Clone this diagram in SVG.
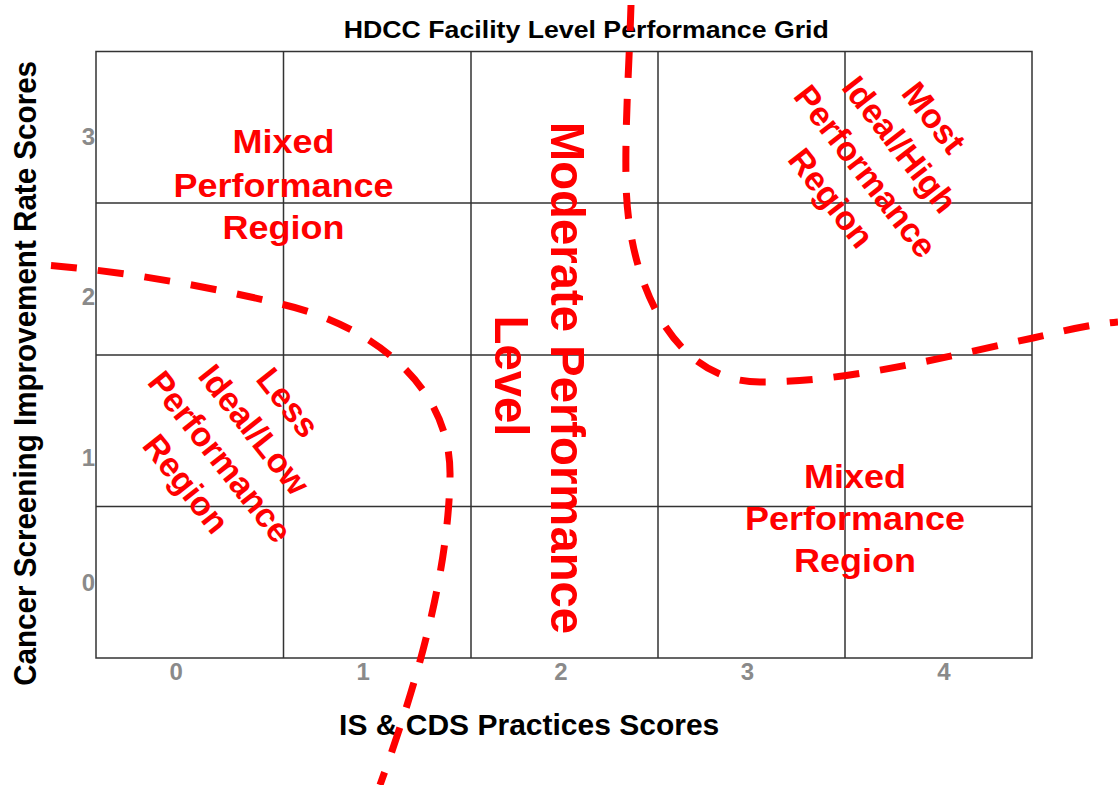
<svg xmlns="http://www.w3.org/2000/svg" width="1118" height="785" viewBox="0 0 1118 785">
  <style>
    .grid { fill: none; stroke: #333333; stroke-width: 1.5; }
    .tick { font-family: "Liberation Sans", Arial, sans-serif; font-weight: bold; font-size: 24px; fill: #8a8a8a; }
    .axis { font-family: "Liberation Sans", Arial, sans-serif; font-weight: bold; fill: #000000; }
    .region { font-family: "Liberation Sans", Arial, sans-serif; font-weight: bold; fill: #ff0000; text-anchor: middle; }
    .boundary { fill: none; stroke: #ff0000; stroke-width: 7; stroke-dasharray: 26 21; }
  </style>

  <rect width="1118" height="785" fill="#ffffff"/>

  <!-- 5 x 4 performance grid -->
  <g id="grid" class="grid">
    <rect x="96" y="51.5" width="936" height="606.5"/>
    <path d="M283.5 51.5V658M471 51.5V658M658 51.5V658M845 51.5V658M96 203H1032M96 355H1032M96 506.5H1032"/>
  </g>

  <!-- title and axis titles -->
  <g id="titles">
    <text id="title" class="axis" font-size="26.7" text-anchor="middle" transform="translate(586.3,38.3) scale(1,0.875)">HDCC Facility Level Performance Grid</text>
    <text id="x-title" class="axis" font-size="30" text-anchor="middle" x="529.2" y="735">IS &amp; CDS Practices Scores</text>
    <text id="y-title" class="axis" font-size="32" text-anchor="middle" transform="translate(36,373.4) rotate(-90) scale(0.925,1)">Cancer Screening Improvement Rate Scores</text>
  </g>

  <!-- tick labels -->
  <g id="x-ticks" class="tick" text-anchor="middle">
    <text x="176.3" y="680">0</text>
    <text x="363.3" y="680">1</text>
    <text x="561" y="680">2</text>
    <text x="747.5" y="680">3</text>
    <text x="944" y="680">4</text>
  </g>
  <g id="y-ticks" class="tick" text-anchor="end">
    <text x="95" y="145">3</text>
    <text x="95" y="305">2</text>
    <text x="95" y="466">1</text>
    <text x="95" y="591">0</text>
  </g>

  <!-- region labels -->
  <g id="mixed-upper-left" class="region" font-size="36" transform="translate(283.5,153.3) scale(1,0.9)">
    <text x="0" y="0">Mixed</text>
    <text x="0" y="48.2">Performance</text>
    <text x="0" y="95.6">Region</text>
  </g>

  <g id="mixed-lower-right" class="region" font-size="36" transform="translate(855,488.3) scale(1,0.9)">
    <text x="0" y="0">Mixed</text>
    <text x="0" y="46.3">Performance</text>
    <text x="0" y="93.3">Region</text>
  </g>

  <g id="moderate" class="region" font-size="49" transform="translate(551,377) rotate(90) scale(0.965,1)">
    <text x="1" y="0">Moderate Performance</text>
    <text x="-1" y="56">Level</text>
  </g>

  <g id="most-ideal" class="region" font-size="34" transform="translate(883,157.5) rotate(52)">
    <text x="0" y="-53">Most</text>
    <text x="0" y="-9.5">Ideal/High</text>
    <text x="0" y="34">Performance</text>
    <text x="0" y="77.5">Region</text>
  </g>

  <g id="less-ideal" class="region" font-size="34" transform="translate(237.5,442.9) rotate(51.5)">
    <text x="0" y="-53">Less</text>
    <text x="0" y="-9.5">Ideal/Low</text>
    <text x="0" y="34">Performance</text>
    <text x="0" y="77.5">Region</text>
  </g>

  <!-- dashed region boundaries -->
  <g id="boundaries" class="boundary">
    <path id="low-boundary" d="M51 265.5C130 272 220 289 283 304.5C370 325 452 385 450 477C448 580 414 691 380 785"/>
    <path id="high-boundary" d="M631 5C629.5 60 625 120 626 180C627 280 672 382 760 382C850 382 945 356.6 1033 338C1060 332 1085 325 1118 322"/>
  </g>
</svg>
